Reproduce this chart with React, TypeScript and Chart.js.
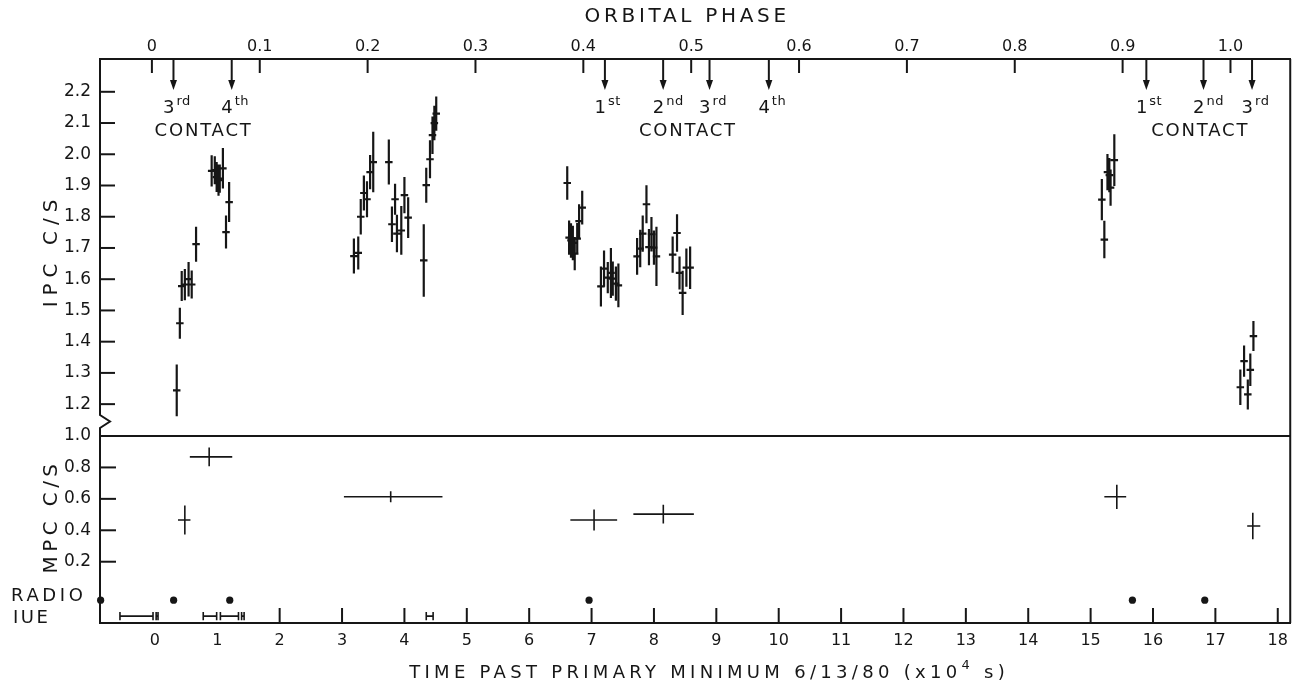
import { useEffect, useRef } from 'react';
import { Chart, registerables } from 'chart.js';

Chart.register(...registerables);

const INK = '#161616';
const FONT = "'DejaVu Sans', 'Liberation Sans', sans-serif";

// Time axis, in units of 10^4 s past primary minimum
const TIME_MIN = -0.88;
const TIME_MAX = 18.2;
const TIME_TICKS = [0, 1, 2, 3, 4, 5, 6, 7, 8, 9, 10, 11, 12, 13, 14, 15, 16, 17, 18];

// Ephemeris for the orbital phase axis along the top
const PHASE_ZERO = -0.048;
const PERIOD = 17.29;
const PHASE_TICKS = [0, 0.1, 0.2, 0.3, 0.4, 0.5, 0.6, 0.7, 0.8, 0.9, 1.0];

// Broken count-rate axis: IPC above, MPC below
const IPC_MIN = 1.098;
const IPC_MAX = 2.305;
const IPC_TICKS = [1.2, 1.3, 1.4, 1.5, 1.6, 1.7, 1.8, 1.9, 2.0, 2.1, 2.2];
const MPC_MIN = -0.19;
const MPC_MAX = 1.0;
const MPC_TICKS = [0.2, 0.4, 0.6, 0.8, 1.0];

// IPC count rates (c/s) with 1-sigma errors
const ipcTime = [
  0.35, 0.40, 0.43, 0.48, 0.54, 0.59, 0.66,
  0.91, 0.96, 0.99, 1.02, 1.04, 1.09, 1.14, 1.19,
  3.19, 3.26, 3.30, 3.35, 3.40, 3.45, 3.50, 3.75, 3.80, 3.85, 3.88, 3.95, 4.00, 4.06, 4.31, 4.35, 4.41, 4.45, 4.48, 4.51,
  6.61, 6.64, 6.67, 6.70, 6.73, 6.77, 6.80, 6.85,
  7.15, 7.20, 7.26, 7.31, 7.34, 7.39, 7.43,
  7.73, 7.78, 7.82, 7.88, 7.92, 7.96, 8.00, 8.04,
  8.30, 8.37, 8.41, 8.46, 8.52, 8.58,
  15.18, 15.22, 15.27, 15.30, 15.32, 15.38,
  17.40, 17.46, 17.52, 17.56, 17.61,
];
const ipcRate = [
  1.244, 1.459, 1.578, 1.583, 1.600, 1.583, 1.712,
  1.947, 1.949, 1.927, 1.917, 1.922, 1.955, 1.751, 1.847,
  1.674, 1.684, 1.800, 1.876, 1.856, 1.943, 1.975, 1.975, 1.776, 1.856, 1.746, 1.756, 1.869, 1.797, 1.660, 1.901, 1.984, 2.061, 2.100, 2.130,
  1.908, 1.733, 1.724, 1.716, 1.682, 1.730, 1.786, 1.829,
  1.577, 1.634, 1.605, 1.620, 1.602, 1.586, 1.580,
  1.673, 1.698, 1.746, 1.840, 1.703, 1.744, 1.701, 1.673,
  1.679, 1.748, 1.620, 1.556, 1.637, 1.637,
  1.855, 1.727, 1.943, 1.933, 1.893, 1.981,
  1.254, 1.338, 1.231, 1.310, 1.418,
];
const ipcError = [
  0.083, 0.050, 0.048, 0.050, 0.055, 0.045, 0.056,
  0.050, 0.045, 0.048, 0.050, 0.045, 0.065, 0.053, 0.064,
  0.056, 0.053, 0.057, 0.056, 0.058, 0.055, 0.097, 0.072, 0.057, 0.050, 0.060, 0.078, 0.058, 0.065, 0.116, 0.056, 0.061, 0.060, 0.055, 0.055,
  0.054, 0.055, 0.055, 0.055, 0.053, 0.050, 0.054, 0.054,
  0.064, 0.058, 0.050, 0.080, 0.055, 0.055, 0.070,
  0.059, 0.060, 0.058, 0.061, 0.058, 0.055, 0.055, 0.095,
  0.058, 0.060, 0.053, 0.071, 0.061, 0.068,
  0.066, 0.060, 0.058, 0.055, 0.058, 0.083,
  0.057, 0.050, 0.048, 0.052, 0.048,
];
const IPC_BIN_HALF = 0.06;

// MPC count rates: bin centre, bin start/end, rate, error
const mpcTime = [0.48, 0.87, 3.78, 7.04, 8.15, 15.42, 17.60];
const mpcStart = [0.37, 0.56, 3.03, 6.66, 7.67, 15.22, 17.51];
const mpcEnd = [0.57, 1.24, 4.61, 7.41, 8.64, 15.57, 17.72];
const mpcRate = [0.465, 0.867, 0.613, 0.465, 0.503, 0.613, 0.427];
const mpcError = [0.092, 0.060, 0.035, 0.067, 0.060, 0.077, 0.084];

// Radio observations and IUE exposures
const radioTime = [-0.87, 0.30, 1.20, 6.96, 15.67, 16.83];
const iueStart = [-0.56, 0.02, 0.775, 1.05, 1.39, 4.35];
const iueEnd = [-0.03, 0.05, 0.99, 1.34, 1.43, 4.46];
const RADIO_ROW = -0.045;
const IUE_ROW = -0.146;
const IUE_CAP = 0.026;

// Eclipse contacts marked on the phase axis
const contactPhase = [0.020, 0.074, 0.420, 0.474, 0.517, 0.572, 0.922, 0.975, 1.020];
const contactNumber = [3, 4, 1, 2, 3, 4, 1, 2, 3];
const contactGroups = [[0, 1], [2, 5], [6, 8]];

const phaseOf = (t: number) => (t - PHASE_ZERO) / PERIOD;
const ordinal = (n: number) => (n === 1 ? 'st' : n === 2 ? 'nd' : n === 3 ? 'rd' : 'th');

type Pt = { x: number; y: number | null };

function crosses(xs: number[], ys: number[], lo: number[], hi: number[], err: number[]): Pt[] {
  const pts: Pt[] = [];
  xs.forEach((x, i) => {
    pts.push({ x, y: ys[i] - err[i] }, { x, y: ys[i] + err[i] }, { x, y: null });
    pts.push({ x: lo[i], y: ys[i] }, { x: hi[i], y: ys[i] }, { x: hi[i], y: null });
  });
  return pts;
}

function intervals(starts: number[], ends: number[], level: number, cap: number): Pt[] {
  const pts: Pt[] = [];
  starts.forEach((s, i) => {
    const e = ends[i];
    pts.push({ x: s, y: level }, { x: e, y: level }, { x: e, y: null });
    pts.push({ x: s, y: level - cap }, { x: s, y: level + cap }, { x: s, y: null });
    pts.push({ x: e, y: level - cap }, { x: e, y: level + cap }, { x: e, y: null });
  });
  return pts;
}

function spaced(ctx: CanvasRenderingContext2D, text: string, x: number, y: number, size: number, spacing: number, align: CanvasTextAlign) {
  ctx.font = `${size}px ${FONT}`;
  (ctx as any).letterSpacing = `${spacing}px`;
  ctx.textAlign = align;
  ctx.fillText(text, x, y);
}

const annotations = {
  id: 'annotations',
  afterDraw(chart: any) {
    const { ctx, chartArea } = chart;
    const { left, right, top, bottom } = chartArea;
    const sx = chart.scales.x;
    const sp = chart.scales.x2;
    const su = chart.scales.yU;
    const sl = chart.scales.yL;
    ctx.save();
    ctx.strokeStyle = INK;
    ctx.fillStyle = INK;
    ctx.lineWidth = 2;
    const seg = (x1: number, y1: number, x2: number, y2: number) => {
      ctx.beginPath();
      ctx.moveTo(x1, y1);
      ctx.lineTo(x2, y2);
      ctx.stroke();
    };

    // frame: panel divider, right edge, left axis with the break mark
    const split = sl.getPixelForValue(MPC_MAX);
    seg(left, split, right, split);
    seg(right, top, right, bottom);
    ctx.beginPath();
    ctx.moveTo(left, top);
    ctx.lineTo(left, split - 21);
    ctx.lineTo(left + 10, split - 14.5);
    ctx.lineTo(left, split - 8);
    ctx.lineTo(left, bottom);
    ctx.stroke();

    // inward tick marks
    IPC_TICKS.forEach((v) => {
      const y = su.getPixelForValue(v);
      seg(left, y, left + 15, y);
    });
    MPC_TICKS.forEach((v) => {
      if (v >= MPC_MAX) return;
      const y = sl.getPixelForValue(v);
      seg(left, y, left + 16, y);
    });
    TIME_TICKS.forEach((t) => {
      if (iueStart.some((s, i) => t >= s - 0.1 && t <= iueEnd[i] + 0.1)) return;
      const x = sx.getPixelForValue(t);
      seg(x, bottom, x, bottom - 15);
    });
    PHASE_TICKS.forEach((p) => {
      const x = sp.getPixelForValue(p);
      seg(x, top, x, top + 14);
    });

    // contact arrows and labels
    ctx.textBaseline = 'alphabetic';
    contactPhase.forEach((p, i) => {
      const x = sp.getPixelForValue(p);
      seg(x, top, x, top + 22);
      ctx.beginPath();
      ctx.moveTo(x - 3.5, top + 21);
      ctx.lineTo(x + 3.5, top + 21);
      ctx.lineTo(x, top + 31);
      ctx.closePath();
      ctx.fill();
      spaced(ctx, String(contactNumber[i]), x + 1, top + 54, 18, 0, 'right');
      spaced(ctx, ordinal(contactNumber[i]), x + 3, top + 46, 13, 0.5, 'left');
    });
    contactGroups.forEach(([a, b]) => {
      const xa = sp.getPixelForValue(contactPhase[a]);
      const xb = sp.getPixelForValue(contactPhase[b]);
      spaced(ctx, 'CONTACT', (xa + xb) / 2 + 1, top + 77, 18, 1.8, 'center');
    });

    // axis titles
    spaced(ctx, 'ORBITAL PHASE', (left + right) / 2 - 8, 22, 20, 3.7, 'center');

    const base = 678;
    const main = 'TIME PAST PRIMARY MINIMUM 6/13/80 (x10';
    const tail = ' s)';
    ctx.font = `18px ${FONT}`;
    (ctx as any).letterSpacing = '4.3px';
    const wMain = ctx.measureText(main).width;
    const wTail = ctx.measureText(tail).width;
    ctx.font = `13px ${FONT}`;
    const wSup = ctx.measureText('4').width;
    let cx = (left + right) / 2 + 14 - (wMain + wSup + wTail) / 2;
    spaced(ctx, main, cx, base, 18, 4.3, 'left');
    cx += wMain;
    spaced(ctx, '4', cx, base - 9, 13, 4.3, 'left');
    cx += wSup;
    spaced(ctx, tail, cx, base, 18, 4.3, 'left');

    const rotated = (text: string, x: number, y: number, spacing: number) => {
      ctx.save();
      ctx.translate(x, y);
      ctx.rotate(-Math.PI / 2);
      spaced(ctx, text, 0, 0, 20, spacing, 'center');
      ctx.restore();
    };
    rotated('IPC C/S', 57, (su.top + su.bottom) / 2 + 3, 6);
    rotated('MPC C/S', 57, (sl.top + sl.bottom) / 2 - 13, 4.4);

    // row labels for the radio and IUE coverage
    spaced(ctx, 'RADIO', 11, sl.getPixelForValue(RADIO_ROW) + 1, 18, 3.6, 'left');
    spaced(ctx, 'IUE', 13, bottom, 18, 2.5, 'left');

    (ctx as any).letterSpacing = '0px';
    ctx.restore();
  },
};

const tickFont = { family: FONT, size: 16 };
const hiddenGrid = { display: false, drawTicks: false };

export default function App() {
  const canvasRef = useRef<HTMLCanvasElement | null>(null);

  useEffect(() => {
    const canvas = canvasRef.current;
    if (!canvas) return;

    const datasets: any[] = [
      {
        label: 'IPC',
        data: crosses(
          ipcTime,
          ipcRate,
          ipcTime.map((t) => t - IPC_BIN_HALF),
          ipcTime.map((t) => t + IPC_BIN_HALF),
          ipcError,
        ),
        yAxisID: 'yU',
        borderColor: INK,
        borderWidth: 2.2,
        pointRadius: 0,
        spanGaps: false,
      },
      {
        label: 'MPC',
        data: crosses(mpcTime, mpcRate, mpcStart, mpcEnd, mpcError),
        yAxisID: 'yL',
        borderColor: INK,
        borderWidth: 1.6,
        pointRadius: 0,
        spanGaps: false,
      },
      {
        label: 'IUE',
        data: intervals(iueStart, iueEnd, IUE_ROW, IUE_CAP),
        yAxisID: 'yL',
        borderColor: INK,
        borderWidth: 1.6,
        pointRadius: 0,
        spanGaps: false,
      },
      {
        label: 'Radio',
        data: radioTime.map((t) => ({ x: t, y: RADIO_ROW })),
        yAxisID: 'yL',
        showLine: false,
        clip: false,
        pointRadius: 3.6,
        pointBackgroundColor: INK,
        pointBorderWidth: 0,
      },
    ];

    const chart = new Chart(canvas, {
      type: 'line',
      data: { datasets },
      options: {
        animation: false,
        responsive: false,
        devicePixelRatio: 1,
        events: [],
        layout: { padding: { left: 0, right: 5, top: 0, bottom: 0 } },
        plugins: {
          legend: { display: false },
          tooltip: { enabled: false },
        },
        scales: {
          x: {
            type: 'linear',
            display: true,
            position: 'bottom',
            min: TIME_MIN,
            max: TIME_MAX,
            bounds: 'data',
            grid: hiddenGrid,
            border: { display: true, width: 2, color: INK },
            ticks: {
              font: tickFont,
              color: INK,
              padding: 8,
              autoSkip: false,
              maxRotation: 0,
              callback: (v: any) => String(v),
            },
            afterBuildTicks: (s: any) => {
              s.ticks = TIME_TICKS.map((value) => ({ value }));
            },
            afterFit: (s: any) => {
              s.height = 63;
            },
          },
          x2: {
            type: 'linear',
            display: true,
            position: 'top',
            min: phaseOf(TIME_MIN),
            max: phaseOf(TIME_MAX),
            bounds: 'data',
            grid: hiddenGrid,
            border: { display: true, width: 2, color: INK },
            ticks: {
              font: tickFont,
              color: INK,
              padding: 3,
              autoSkip: false,
              maxRotation: 0,
              callback: (v: any) => (Number(v) === 0 ? '0' : Number(v).toFixed(1)),
            },
            afterBuildTicks: (s: any) => {
              s.ticks = PHASE_TICKS.map((value) => ({ value }));
            },
            afterFit: (s: any) => {
              s.height = 59;
            },
          },
          yU: {
            type: 'linear',
            display: true,
            position: 'left',
            stack: 'rate',
            stackWeight: 377,
            weight: 2,
            min: IPC_MIN,
            max: IPC_MAX,
            bounds: 'data',
            grid: hiddenGrid,
            border: { display: false },
            ticks: {
              font: { family: FONT, size: 17 },
              color: INK,
              padding: 9,
              autoSkip: false,
              callback: (v: any) => Number(v).toFixed(1),
            },
            afterBuildTicks: (s: any) => {
              s.ticks = IPC_TICKS.map((value) => ({ value }));
            },
            afterFit: (s: any) => {
              s.width = 100;
            },
          },
          yL: {
            type: 'linear',
            display: true,
            position: 'left',
            stack: 'rate',
            stackWeight: 187,
            weight: 1,
            min: MPC_MIN,
            max: MPC_MAX,
            bounds: 'data',
            grid: hiddenGrid,
            border: { display: false },
            ticks: {
              font: { family: FONT, size: 17 },
              color: INK,
              padding: 9,
              autoSkip: false,
              callback: (v: any) => Number(v).toFixed(1),
            },
            afterBuildTicks: (s: any) => {
              s.ticks = MPC_TICKS.map((value) => ({ value }));
            },
            afterFit: (s: any) => {
              s.width = 100;
            },
          },
        },
      } as any,
      plugins: [annotations],
    });

    return () => chart.destroy();
  }, []);

  return (
    <div style={{ position: 'absolute', left: 0, top: 0, width: 1296, height: 686, background: '#fff' }}>
      <canvas ref={canvasRef} width={1296} height={686} />
    </div>
  );
}
